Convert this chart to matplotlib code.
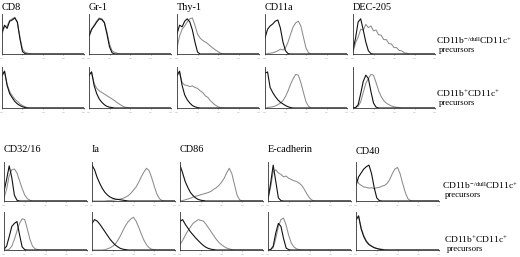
"""Flow cytometry histograms: surface markers on two DC precursor populations."""
import matplotlib
matplotlib.use("Agg")
import matplotlib.pyplot as plt

plt.rcParams["font.family"] = ["Liberation Serif", "DejaVu Serif"]
plt.rcParams["mathtext.fontset"] = "custom"
plt.rcParams["mathtext.rm"] = "Liberation Serif"
plt.rcParams["mathtext.it"] = "Liberation Serif:italic"

W, H = 520, 257

# log fluorescence, decades 0..4 in steps of 1/8
decades = [i / 8 for i in range(33)]
tick_pos = [0, 1, 2, 3, 4]
tick_labels = ["10$^0$", "10$^1$", "10$^2$", "10$^3$", "10$^4$"]

markers_top = ["CD8", "Gr-1", "Thy-1", "CD11a", "DEC-205"]
markers_bottom = ["CD32/16", "Ia", "CD86", "E-cadherin", "CD40"]
row_labels = [r"CD11b$^{\mathregular{-/dull}}$CD11c$^{\mathregular{+}}$",
              r"CD11b$^{\mathregular{+}}$CD11c$^{\mathregular{+}}$"]


def pad(v):
    return v + [0.0] * (33 - len(v))


# black = control, gray = specific stain; row a = CD11b-/dull, row b = CD11b+
cd8_a_ctrl = [0.55, 0.72, 0.64, 0.82, 0.85, 0.90, 0.80, 0.38, 0.06, 0.01]
cd8_a_stain = [0.50, 0.68, 0.70, 0.84, 0.88, 0.92, 0.78, 0.42, 0.12, 0.04, 0.02, 0.01]
cd8_b_ctrl = [0.80, 0.90, 0.55, 0.35, 0.25, 0.16, 0.10, 0.06, 0.03, 0.01]
cd8_b_stain = [0.78, 0.88, 0.58, 0.40, 0.30, 0.22, 0.16, 0.10, 0.06, 0.03, 0.01]

gr1_a_ctrl = [0.45, 0.62, 0.70, 0.80, 0.88, 0.86, 0.78, 0.50, 0.18, 0.03]
gr1_a_stain = [0.42, 0.60, 0.72, 0.82, 0.90, 0.88, 0.80, 0.55, 0.25, 0.08, 0.04, 0.02]
gr1_b_ctrl = [0.80, 0.88, 0.55, 0.35, 0.22, 0.14, 0.08, 0.04, 0.02, 0.01]
gr1_b_stain = [0.80, 0.88, 0.60, 0.48, 0.42, 0.38, 0.34, 0.30, 0.26, 0.22, 0.18,
               0.13, 0.09, 0.05, 0.02, 0.01]

thy1_a_ctrl = [0.50, 0.72, 0.68, 0.82, 0.88, 0.80, 0.60, 0.30, 0.05]
thy1_a_stain = [0.15, 0.45, 0.62, 0.70, 0.80, 0.88, 0.90, 0.72, 0.50, 0.40, 0.34,
                0.30, 0.26, 0.20, 0.15, 0.10, 0.06, 0.02]
thy1_b_ctrl = [0.80, 0.90, 0.55, 0.32, 0.20, 0.12, 0.06, 0.03, 0.01]
thy1_b_stain = [0.78, 0.86, 0.62, 0.56, 0.55, 0.52, 0.54, 0.50, 0.48, 0.42, 0.38,
                0.30, 0.26, 0.18, 0.12, 0.07, 0.03, 0.01]

cd11a_a_ctrl = [0.40, 0.62, 0.70, 0.75, 0.82, 0.85, 0.65, 0.30, 0.08, 0.01]
cd11a_a_stain = [0.0, 0.01, 0.02, 0.03, 0.05, 0.08, 0.12, 0.10, 0.15, 0.30, 0.50,
                 0.68, 0.78, 0.82, 0.70, 0.42, 0.15, 0.03]
cd11a_b_ctrl = [0.85, 0.88, 0.50, 0.38, 0.28, 0.20, 0.14, 0.10, 0.06, 0.03, 0.01]
cd11a_b_stain = [0.0, 0.01, 0.02, 0.03, 0.05, 0.08, 0.12, 0.18, 0.28, 0.42, 0.58,
                 0.72, 0.82, 0.80, 0.62, 0.38, 0.15, 0.04]

dec205_a_ctrl = [0.10, 0.40, 0.80, 0.88, 0.60, 0.30, 0.08, 0.01]
dec205_a_stain = [0.05, 0.28, 0.42, 0.62, 0.60, 0.74, 0.66, 0.70, 0.58, 0.60, 0.48,
                  0.47, 0.36, 0.36, 0.26, 0.25, 0.16, 0.16, 0.09, 0.08, 0.03, 0.02]
dec205_b_ctrl = [0.0, 0.01, 0.08, 0.35, 0.65, 0.80, 0.72, 0.40, 0.12, 0.02]
dec205_b_stain = [0.0, 0.01, 0.04, 0.15, 0.38, 0.60, 0.72, 0.82, 0.80, 0.62, 0.42,
                  0.28, 0.18, 0.12, 0.08, 0.05, 0.03, 0.02, 0.01]

cd32_a_ctrl = [0.25, 0.55, 0.90, 0.60, 0.15, 0.02]
cd32_a_stain = [0.08, 0.30, 0.65, 0.80, 0.82, 0.72, 0.52, 0.32, 0.15, 0.06, 0.02]
cd32_b_ctrl = [0.02, 0.10, 0.35, 0.62, 0.70, 0.75, 0.40, 0.08, 0.01]
cd32_b_stain = [0.0, 0.0, 0.02, 0.10, 0.28, 0.50, 0.70, 0.82, 0.80, 0.55, 0.28,
                0.10, 0.03, 0.01]

ia_a_ctrl = [0.92, 0.80, 0.60, 0.45, 0.32, 0.22, 0.15, 0.10, 0.07, 0.05, 0.04,
             0.03, 0.02, 0.01]
ia_a_stain = [0, 0, 0, 0, 0, 0, 0.01, 0.01, 0.02, 0.03, 0.04, 0.05, 0.07, 0.10,
              0.14, 0.20, 0.28, 0.36, 0.48, 0.62, 0.74, 0.84, 0.78, 0.60, 0.38,
              0.18, 0.06, 0.01]
ia_b_ctrl = [0.70, 0.80, 0.76, 0.68, 0.58, 0.48, 0.38, 0.28, 0.20, 0.13, 0.08,
             0.04, 0.02, 0.01]
ia_b_stain = [0, 0, 0, 0, 0, 0.01, 0.03, 0.06, 0.10, 0.16, 0.26, 0.38, 0.52, 0.65,
              0.75, 0.82, 0.86, 0.76, 0.60, 0.42, 0.26, 0.14, 0.06, 0.02, 0.01]

cd86_a_ctrl = [0.92, 0.72, 0.50, 0.35, 0.22, 0.14, 0.08, 0.04, 0.02, 0.01]
cd86_a_stain = [0, 0.01, 0.03, 0.05, 0.07, 0.10, 0.12, 0.14, 0.16, 0.18, 0.20,
                0.22, 0.25, 0.30, 0.34, 0.40, 0.48, 0.58, 0.72, 0.84, 0.70, 0.42,
                0.15, 0.03]
cd86_b_ctrl = [0.75, 0.80, 0.68, 0.58, 0.48, 0.40, 0.32, 0.25, 0.18, 0.12, 0.07,
               0.04, 0.02, 0.01]
cd86_b_stain = [0.15, 0.25, 0.38, 0.50, 0.60, 0.70, 0.75, 0.80, 0.78, 0.76, 0.68,
                0.58, 0.48, 0.38, 0.28, 0.20, 0.14, 0.09, 0.05, 0.03, 0.01]

ecad_a_ctrl = [0.05, 0.45, 0.92, 0.50, 0.08, 0.01]
ecad_a_stain = [0.05, 0.35, 0.75, 0.80, 0.72, 0.68, 0.62, 0.64, 0.58, 0.55, 0.52,
                0.50, 0.46, 0.40, 0.30, 0.18, 0.08, 0.02]
ecad_b_ctrl = [0.0, 0.01, 0.10, 0.45, 0.70, 0.62, 0.30, 0.05, 0.01]
ecad_b_stain = [0.0, 0.01, 0.06, 0.30, 0.62, 0.80, 0.84, 0.65, 0.38, 0.18, 0.08,
                0.03, 0.01]

cd40_a_ctrl = [0.40, 0.62, 0.72, 0.82, 0.88, 0.92, 0.70, 0.35, 0.08, 0.01]
cd40_a_stain = [0.62, 0.45, 0.40, 0.36, 0.35, 0.33, 0.34, 0.32, 0.34, 0.35, 0.38,
                0.40, 0.45, 0.55, 0.70, 0.82, 0.86, 0.70, 0.45, 0.22, 0.06, 0.01]
cd40_b_ctrl = [0.80, 0.90, 0.55, 0.35, 0.22, 0.14, 0.10, 0.06, 0.04, 0.02, 0.01]
cd40_b_stain = [0.78, 0.88, 0.58, 0.38, 0.24, 0.16, 0.10, 0.07, 0.04, 0.03, 0.02, 0.01]

top_block = [
    [(cd8_a_ctrl, cd8_a_stain), (gr1_a_ctrl, gr1_a_stain), (thy1_a_ctrl, thy1_a_stain),
     (cd11a_a_ctrl, cd11a_a_stain), (dec205_a_ctrl, dec205_a_stain)],
    [(cd8_b_ctrl, cd8_b_stain), (gr1_b_ctrl, gr1_b_stain), (thy1_b_ctrl, thy1_b_stain),
     (cd11a_b_ctrl, cd11a_b_stain), (dec205_b_ctrl, dec205_b_stain)],
]
bottom_block = [
    [(cd32_a_ctrl, cd32_a_stain), (ia_a_ctrl, ia_a_stain), (cd86_a_ctrl, cd86_a_stain),
     (ecad_a_ctrl, ecad_a_stain), (cd40_a_ctrl, cd40_a_stain)],
    [(cd32_b_ctrl, cd32_b_stain), (ia_b_ctrl, ia_b_stain), (cd86_b_ctrl, cd86_b_stain),
     (ecad_b_ctrl, ecad_b_stain), (cd40_b_ctrl, cd40_b_stain)],
]

fig = plt.figure(figsize=(W / 100, H / 100), dpi=100)


def px_axes(x0, y0, w, h):
    return fig.add_axes([x0 / W, 1 - (y0 + h) / H, w / W, h / H])


def panel(ax, ctrl, stain):
    ax.plot(decades, pad(stain), color="#8c8c8c", lw=0.75)
    ax.plot(decades, pad(ctrl), color="#111111", lw=0.8)
    ax.set_xlim(0, 4)
    ax.set_ylim(0, 1)
    for s in ("top", "right"):
        ax.spines[s].set_visible(False)
    for s in ("left", "bottom"):
        ax.spines[s].set_linewidth(0.6)
        ax.spines[s].set_color("#333333")
    ax.set_yticks([])
    ax.set_xticks(tick_pos)
    ax.set_xticklabels(tick_labels)
    ax.tick_params(axis="x", length=1.0, width=0.4, pad=0.3, labelsize=1.6,
                   labelcolor="#888888", color="#555555")


def block(data, names, lefts, rows_y, heights, width, title_y, label_x, label_y):
    for r in range(2):
        for c in range(5):
            ax = px_axes(lefts[c], rows_y[r], width, heights[r])
            panel(ax, *data[r][c])
    for c in range(5):
        fig.text(lefts[c] / W, 1 - title_y[c] / H, names[c], fontsize=7.4,
                 ha="left", va="baseline")
    for r in range(2):
        fig.text(label_x[r] / W, 1 - label_y[r] / H, row_labels[r], fontsize=6.8,
                 ha="left", va="baseline")
        fig.text((label_x[r] + 3) / W, 1 - (label_y[r] + 8) / H, "precursors",
                 fontsize=6.3, ha="left", va="baseline")


block(top_block, markers_top, [2, 89, 177, 265, 353], [14, 67], [40, 41], 82,
      [9.5, 9.5, 9.5, 9.5, 9.5], [436, 436], [44, 97])
block(bottom_block, markers_bottom, [4, 92, 180, 268, 356], [162, 212], [39, 38], 83,
      [152, 152, 152, 152, 154], [442, 444], [189, 243])

fig.savefig("out.png", dpi=100)
